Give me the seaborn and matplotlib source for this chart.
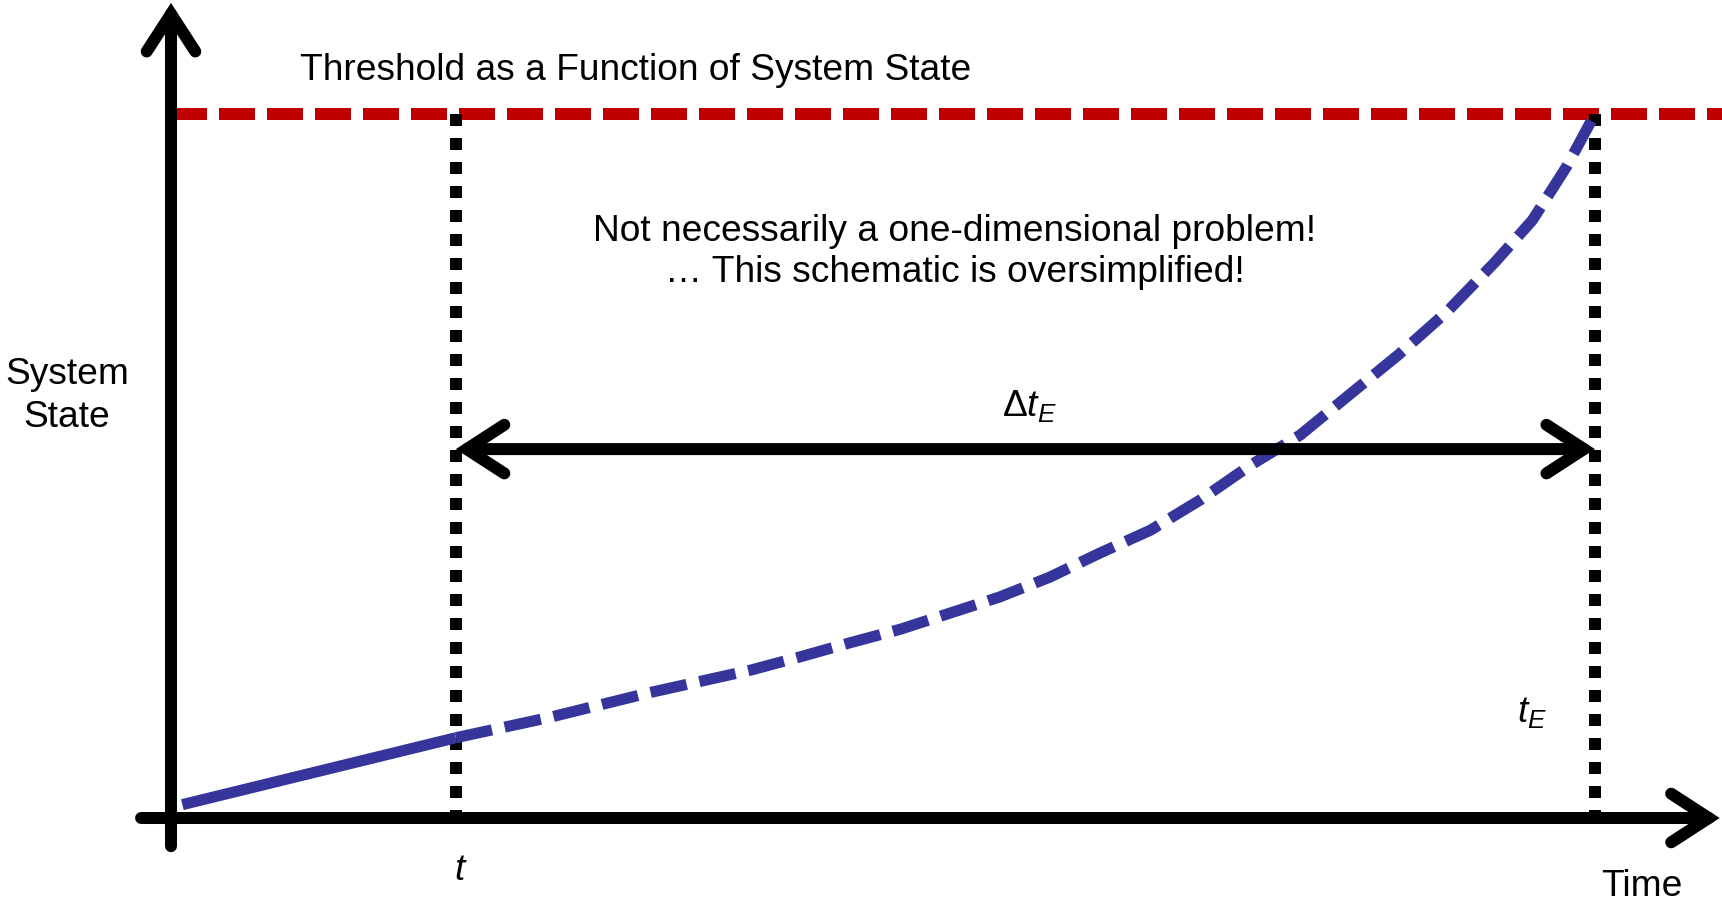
import numpy as np
import pandas as pd
import matplotlib
matplotlib.use('Agg')
import matplotlib.pyplot as plt
import seaborn as sns

# 데이터: 시간(time)과 시스템 상태(state), 임의 단위
threshold = 10.0
t_now = 2.0
t_event = 10.0
delta_level = 5.24  # Δt 화살표가 놓이는 상태값

time_solid = [0.08, 2.0]
state_solid = [0.19, 1.14]

time_dashed = [2.0, 2.66, 3.36, 4.07, 4.42, 4.77, 5.12, 5.47, 5.82, 6.17,
               6.52, 6.88, 7.23, 7.58, 7.93, 8.28, 8.62, 8.96, 9.30, 9.56,
               9.80, 10.0]
state_dashed = [1.14, 1.43, 1.78, 2.10, 2.29, 2.49, 2.68, 2.91, 3.14, 3.42,
                3.76, 4.09, 4.52, 5.01, 5.44, 6.02, 6.58, 7.19, 7.90, 8.49,
                9.25, 10.0]

threshold_span = [0.0, 10.9]

df_solid = pd.DataFrame({'time': time_solid, 'state': state_solid})
df_dashed = pd.DataFrame({'time': time_dashed, 'state': state_dashed})

# 스타일 / 폰트
sns.set_style('white')
plt.rcParams['font.family'] = ['Liberation Sans', 'DejaVu Sans']
plt.rcParams['text.color'] = 'black'
plt.rcParams['mathtext.fontset'] = 'custom'
plt.rcParams['mathtext.rm'] = 'Liberation Sans'
plt.rcParams['mathtext.it'] = 'Liberation Sans:italic'

blue = '#35359b'
red = '#c00000'
LW = 8.64
FS = 26.7

fig = plt.figure(figsize=(17.22, 9.02), dpi=100)
ax = fig.add_axes([0, 0, 1, 1])
ax.set_xlim(-1.2008, 10.892)
ax.set_ylim(-1.193, 11.619)
ax.axis('off')

# 임계값 (빨간 점선)
sns.lineplot(x=threshold_span, y=[threshold, threshold], color=red, lw=LW,
             linestyle=(0, (3, 1)), dash_capstyle='butt', ax=ax, zorder=2)

# 수직 점선 (t, t_E)
for tx in [t_now, t_event]:
    sns.lineplot(x=[tx, tx], y=[threshold, 0], sort=False, estimator=None,
                 color='black', lw=LW, linestyle=(0, (1, 1)),
                 dash_capstyle='butt', ax=ax, zorder=3)

# 시스템 상태 곡선
sns.lineplot(data=df_solid, x='time', y='state', color=blue, lw=8,
             solid_capstyle='butt', ax=ax, zorder=4)
sns.lineplot(data=df_dashed, x='time', y='state', color=blue, lw=8,
             linestyle=(0, (3.33, 1.17)), dash_capstyle='butt',
             solid_joinstyle='round', ax=ax, zorder=4)

# 축 화살표
arrow_kw = dict(lw=LW, color='black', mutation_scale=1, capstyle='round',
                joinstyle='miter')
head = 'head_length=27,head_width=17.5'
ax.annotate('', xy=(10.876, 0), xytext=(-0.21, 0),
            arrowprops=dict(arrowstyle='->,' + head,
                            shrinkA=0, shrinkB=0, **arrow_kw), zorder=5)
ax.annotate('', xy=(0, 11.577), xytext=(0, -0.40),
            arrowprops=dict(arrowstyle='->,' + head,
                            shrinkA=0, shrinkB=0, **arrow_kw), zorder=5)
# Δt 화살표
ax.annotate('', xy=(t_event, delta_level), xytext=(t_now, delta_level),
            arrowprops=dict(arrowstyle='<->,' + head,
                            shrinkA=0, shrinkB=0, **arrow_kw), zorder=5)

# 텍스트
W, H = 1722, 902
fig.text(300 / W, 1 - 70 / H, 'Threshold as a Function of System State',
         fontsize=FS, ha='left', va='center')
fig.text(955 / W, 1 - 252 / H,
         'Not necessarily a one-dimensional problem!\n… This schematic is oversimplified!',
         fontsize=FS, ha='center', va='center', linespacing=1.25)
fig.text(67 / W, 1 - 396 / H, 'System\nState', fontsize=FS, ha='center',
         va='center', linespacing=1.27)
fig.text(1029 / W, 1 - 406 / H, r'$\Delta t_E$', fontsize=FS, ha='center',
         va='center')
fig.text(461 / W, 1 - 870 / H, r'$t$', fontsize=FS, ha='center', va='center')
fig.text(1532 / W, 1 - 712 / H, r'$t_E$', fontsize=FS, ha='center', va='center')
fig.text(1642 / W, 1 - 886 / H, 'Time', fontsize=FS, ha='center', va='center')

fig.savefig('out.png', dpi=100)
